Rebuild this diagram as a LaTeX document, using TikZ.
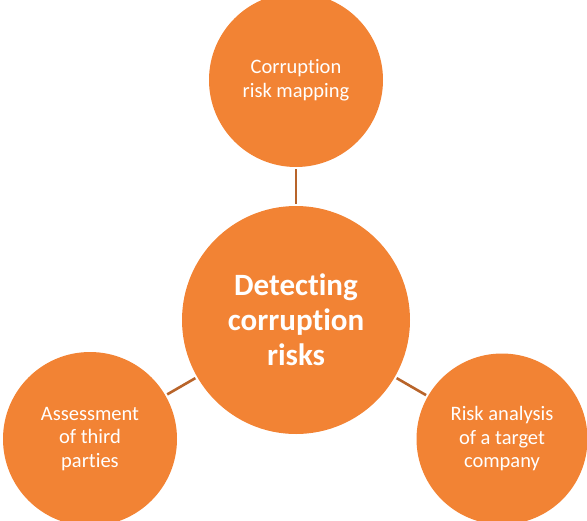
\documentclass[tikz,border=0pt]{standalone}
\usepackage{fontspec}
\setmainfont{Carlito}[RawFeature={-liga}]
\definecolor{orfill}{HTML}{F28334}
\definecolor{linkc}{HTML}{B8642A}
\begin{document}
\begin{tikzpicture}[x=1pt,y=-1pt,
  bubble/.style={circle,fill=orfill,draw=none,text=white,align=center,inner sep=0pt},
  small/.style={bubble,minimum size=174pt,font=\fontsize{20.5}{23.5}\selectfont},
  big/.style={bubble,minimum size=228pt,font=\fontsize{31}{35}\selectfont\bfseries},
  link/.style={draw=linkc,line width=2.6pt,shorten <=2pt,shorten >=2pt}]
\useasboundingbox (0,0) rectangle (587,520);
\node[big] (c) at (296,320) {Detecting\\corruption\\risks};
\node[small] (t) at (296,80) {Corruption\\risk mapping};
\node[small] (l) at (90,439) {Assessment\\of third\\parties};
\node[small,minimum size=171pt] (r) at (502,439) {Risk analysis\\of a target\\company};
\draw[link] (c) -- (t);
\draw[link] (c) -- (l);
\draw[link] (c) -- (r);
\end{tikzpicture}
\end{document}
